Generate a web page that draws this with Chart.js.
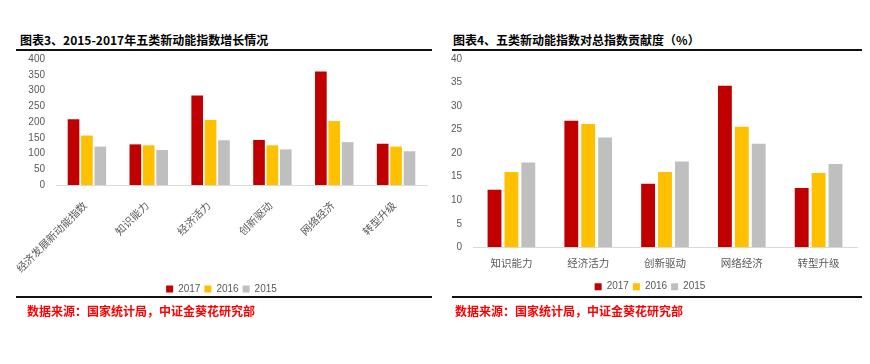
<!DOCTYPE html>
<html>
<head>
<meta charset="utf-8">
<script src="https://cdn.jsdelivr.net/npm/chart.js@4/dist/chart.umd.min.js"></script>
<style>
  body { margin:0; background:#fff; width:870px; height:364px; position:relative; overflow:hidden; font-family:'Noto Sans CJK SC', sans-serif; }
  .title { position:absolute; top:32px; font-size:12px; line-height:16px; font-weight:bold; color:#000; white-space:nowrap; }
  .rule { position:absolute; height:2px; background:#111; }
  .src { position:absolute; top:303px; font-size:12px; line-height:16px; font-weight:bold; color:#ff0000; white-space:nowrap; }
  .box { position:absolute; top:52px; height:258px; }
</style>
</head>
<body>
<div class="title" style="left:20px">图表3、2015-2017年五类新动能指数增长情况</div>
<div class="title" style="left:453px">图表4、五类新动能指数对总指数贡献度（%）</div>
<div class="rule" style="left:16px;width:416px;top:49px"></div>
<div class="rule" style="left:452px;width:410px;top:49px"></div>
<div class="box" style="left:16px;width:416px"><canvas id="growth"></canvas></div>
<div class="box" style="left:443px;width:419px"><canvas id="share"></canvas></div>
<div class="rule" style="left:16px;width:416px;top:296px"></div>
<div class="rule" style="left:452px;width:410px;top:296px"></div>
<div class="src" style="left:27px">数据来源：国家统计局，中证金葵花研究部</div>
<div class="src" style="left:455px">数据来源：国家统计局，中证金葵花研究部</div>

<script>
// ── Data ─────────────────────────────────────────────────────
const years = ['2017', '2016', '2015'];
const yearColors = ['#c00000', '#ffc000', '#bfbfbf'];

const growthCats = ['经济发展新动能指数', '知识能力', '经济活力', '创新驱动', '网络经济', '转型升级'];
const growth2017 = [209, 129, 284, 143, 360, 131];
const growth2016 = [157, 126, 206, 126, 203, 122];
const growth2015 = [122, 111, 142, 113, 136, 107];
const growthTicks = [0, 50, 100, 150, 200, 250, 300, 350, 400];

const shareCats = ['知识能力', '经济活力', '创新驱动', '网络经济', '转型升级'];
const share2017 = [12.2, 26.9, 13.5, 34.3, 12.6];
const share2016 = [16.0, 26.2, 16.0, 25.6, 15.8];
const share2015 = [18.0, 23.3, 18.2, 22.0, 17.7];
const shareTicks = [0, 5, 10, 15, 20, 25, 30, 35, 40];

// ── Helpers ──────────────────────────────────────────────────
const grey = '#595959';
const tickFont = { family: "'Liberation Sans', sans-serif", size: 10 };
const catFont = (size) => ({ family: "'Noto Sans CJK SC', sans-serif", size });

function datasets(series, cp, bp) {
  return series.map((data, i) => ({
    label: years[i], data, backgroundColor: yearColors[i],
    categoryPercentage: cp, barPercentage: bp
  }));
}

function makeChart(id, cats, series, ticks, opts) {
  return new Chart(document.getElementById(id), {
    type: 'bar',
    data: { labels: cats, datasets: datasets(series, opts.cp, opts.bp) },
    options: {
      responsive: true, maintainAspectRatio: false, animation: false,
      layout: { padding: { top: 7, right: 5, bottom: opts.padBottom, left: 0 } },
      plugins: {
        tooltip: { enabled: false },
        legend: {
          position: 'bottom',
          labels: { boxWidth: 7, boxHeight: 7, padding: 4, color: grey, font: tickFont }
        }
      },
      scales: {
        x: {
          grid: { display: false, drawTicks: false },
          border: { display: true, color: '#d9d9d9', width: 1 },
          ticks: { color: grey, font: catFont(opts.catSize), padding: opts.catPad, labelOffset: opts.catShift,
                   maxRotation: opts.rot, minRotation: opts.rot, autoSkip: false },
          // fixed axis sizes so the plot area lands where the picture has it
          afterFit: s => { s.height = opts.xHeight; s.paddingLeft = 0; s.paddingRight = 0; }
        },
        y: {
          min: ticks[0], max: ticks[ticks.length - 1],
          afterBuildTicks: s => { s.ticks = ticks.map(v => ({ value: v })); },
          grid: { display: false, drawTicks: false },
          border: { display: false },
          ticks: { color: grey, font: tickFont, padding: 11, autoSkip: false },
          afterFit: s => { s.width = opts.yWidth; s.paddingTop = 0; s.paddingBottom = 0; }
        }
      }
    }
  });
}

// ── Charts ───────────────────────────────────────────────────
makeChart('growth', growthCats, [growth2017, growth2016, growth2015], growthTicks,
  { cp: 0.65, bp: 0.87, catSize: 10.5, catPad: 14, catShift: -2, rot: 45, xHeight: 95, yWidth: 40, padBottom: 6 });

makeChart('share', shareCats, [share2017, share2016, share2015], shareTicks,
  { cp: 0.66, bp: 0.82, catSize: 10.5, catPad: 9, catShift: 0, rot: 0, xHeight: 30.4, yWidth: 30, padBottom: 8.3 });
</script>
</body>
</html>
